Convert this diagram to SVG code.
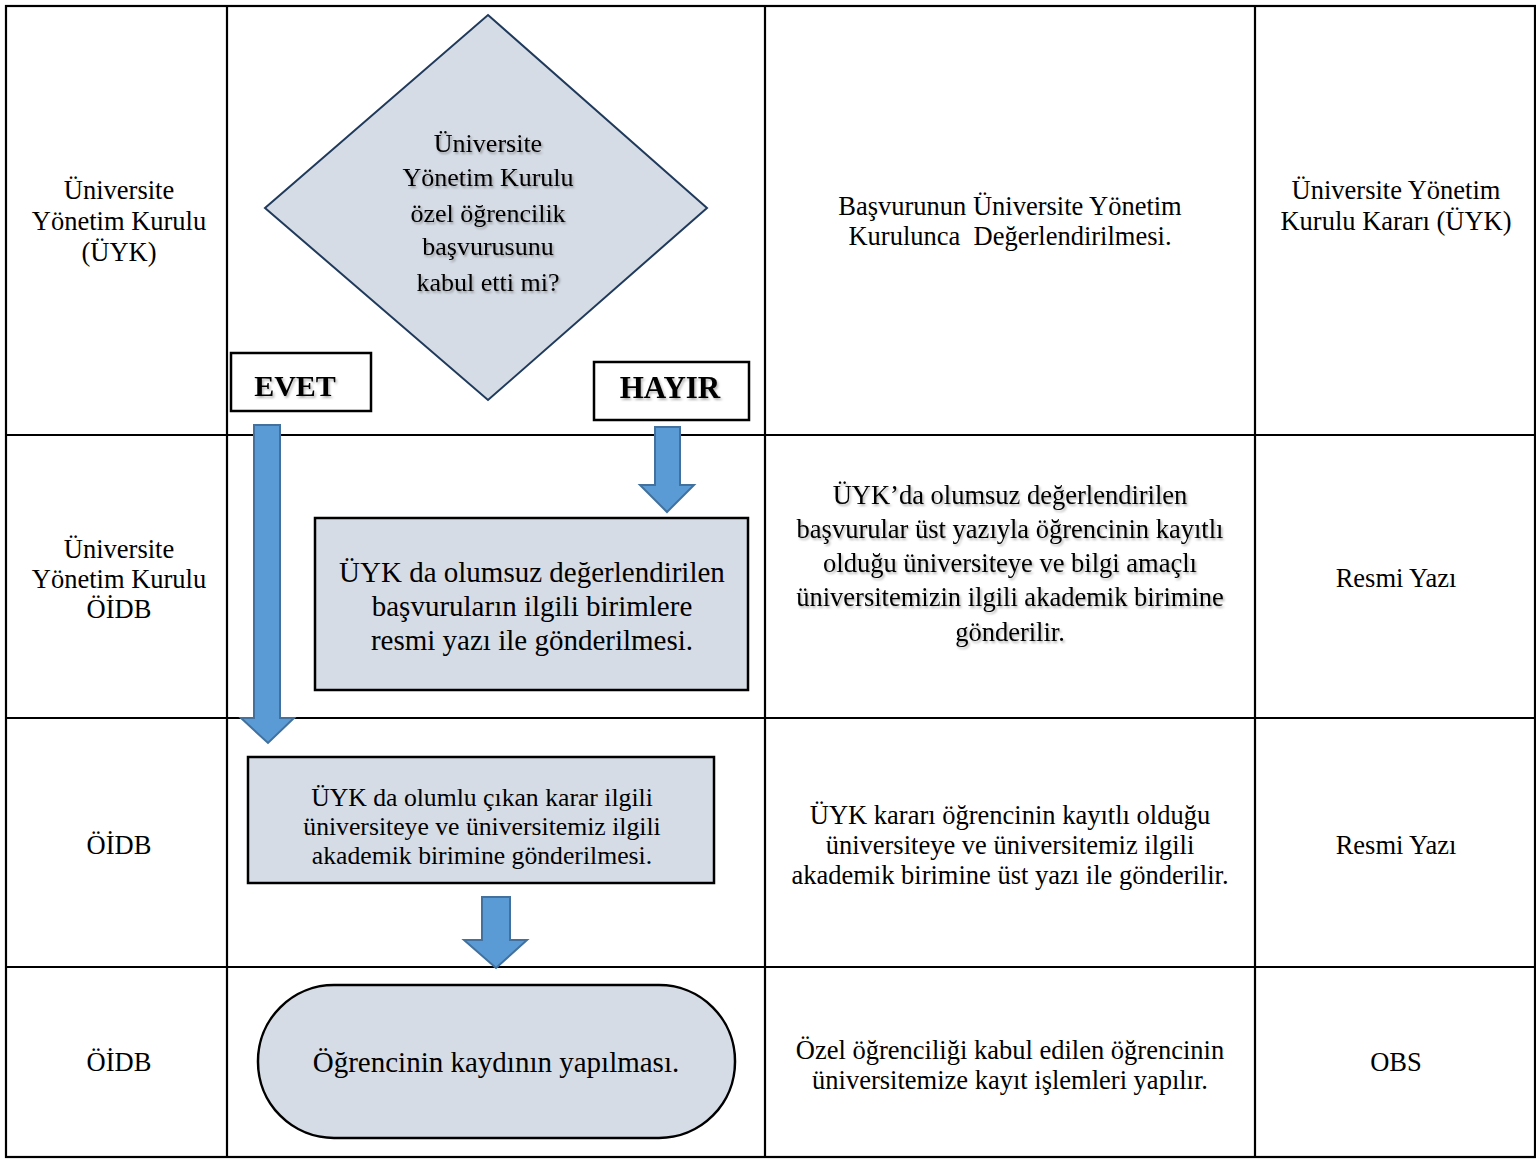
<svg xmlns="http://www.w3.org/2000/svg" width="1536" height="1160" viewBox="0 0 1536 1160">
<defs>
<style>
.t{font-family:"Liberation Serif","Times New Roman",serif;fill:#000;text-anchor:middle}
.c1{font-size:26.5px}
.c3{font-size:26.5px}
.c4{font-size:26.5px}
.grid{stroke:#000;stroke-width:2.2;fill:none}
.box{fill:#d6dce5;stroke:#000;stroke-width:2.5}
.arrow{fill:#5b9bd5;stroke:#41719c;stroke-width:2}
.sh{filter:url(#shadow)}
</style>
<filter id="shadow" x="-10%" y="-10%" width="130%" height="130%">
<feDropShadow dx="1.5" dy="2" stdDeviation="1.2" flood-color="#000" flood-opacity="0.3"/>
</filter>
</defs>
<rect width="1536" height="1160" fill="#fff"/>
<g id="table">
<rect class="grid" x="6" y="6" width="1529" height="1151"/>
<line class="grid" x1="227" y1="6" x2="227" y2="1157"/>
<line class="grid" x1="765" y1="6" x2="765" y2="1157"/>
<line class="grid" x1="1255" y1="6" x2="1255" y2="1157"/>
<line class="grid" x1="6" y1="435" x2="1535" y2="435"/>
<line class="grid" x1="6" y1="718" x2="1535" y2="718"/>
<line class="grid" x1="6" y1="967" x2="1535" y2="967"/>
</g>
<g id="col1">
<text class="t c1"><tspan x="119" y="199">Üniversite</tspan><tspan x="119" y="230">Yönetim Kurulu</tspan><tspan x="119" y="261">(ÜYK)</tspan></text>
<text class="t c1"><tspan x="119" y="558">Üniversite</tspan><tspan x="119" y="588">Yönetim Kurulu</tspan><tspan x="119" y="618">ÖİDB</tspan></text>
<text class="t c1" x="119" y="854">ÖİDB</text>
<text class="t c1" x="119" y="1071">ÖİDB</text>
</g>
<g id="col3">
<text class="t c3"><tspan x="1010" y="215">Başvurunun Üniversite Yönetim</tspan><tspan x="1010" y="245" xml:space="preserve">Kurulunca  Değerlendirilmesi.</tspan></text>
<text class="t c3 sh"><tspan x="1010" y="504">ÜYK’da olumsuz değerlendirilen</tspan><tspan x="1010" y="538">başvurular üst yazıyla öğrencinin kayıtlı</tspan><tspan x="1010" y="572">olduğu üniversiteye ve bilgi amaçlı</tspan><tspan x="1010" y="606">üniversitemizin ilgili akademik birimine</tspan><tspan x="1010" y="641">gönderilir.</tspan></text>
<text class="t c3"><tspan x="1010" y="824">ÜYK kararı öğrencinin kayıtlı olduğu</tspan><tspan x="1010" y="854">üniversiteye ve üniversitemiz ilgili</tspan><tspan x="1010" y="884">akademik birimine üst yazı ile gönderilir.</tspan></text>
<text class="t c3"><tspan x="1010" y="1059">Özel öğrenciliği kabul edilen öğrencinin</tspan><tspan x="1010" y="1089">üniversitemize kayıt işlemleri yapılır.</tspan></text>
</g>
<g id="col4">
<text class="t c4"><tspan x="1396" y="199">Üniversite Yönetim</tspan><tspan x="1396" y="230">Kurulu Kararı (ÜYK)</tspan></text>
<text class="t c4" x="1396" y="587">Resmi Yazı</text>
<text class="t c4" x="1396" y="854">Resmi Yazı</text>
<text class="t c4" x="1396" y="1071">OBS</text>
</g>
<g id="decision">
<polygon points="488,15 707,208 488,400 265,208" fill="#d6dce5" stroke="#203a5c" stroke-width="2"/>
<text class="t sh" style="font-size:26px"><tspan x="488" y="152">Üniversite</tspan><tspan x="488" y="186">Yönetim Kurulu</tspan><tspan x="488" y="222">özel öğrencilik</tspan><tspan x="488" y="255">başvurusunu</tspan><tspan x="488" y="291">kabul etti mi?</tspan></text>
</g>
<g id="evet">
<rect x="231" y="353" width="140" height="58" fill="#fff" stroke="#000" stroke-width="2.5"/>
<text class="t sh" x="295" y="396" style="font-size:30px;font-weight:bold">EVET</text>
</g>
<g id="hayir">
<rect x="594" y="362" width="155" height="58" fill="#fff" stroke="#000" stroke-width="2.5"/>
<text class="t sh" x="670" y="398" style="font-size:31px;font-weight:bold">HAYIR</text>
</g>
<g id="reject">
<rect class="box" x="315" y="518" width="433" height="172"/>
<text class="t" style="font-size:29px"><tspan x="532" y="582">ÜYK da olumsuz değerlendirilen</tspan><tspan x="532" y="616">başvuruların ilgili birimlere</tspan><tspan x="532" y="650">resmi yazı ile gönderilmesi.</tspan></text>
</g>
<g id="approve">
<rect class="box" x="248" y="757" width="466" height="126"/>
<text class="t" style="font-size:25.7px"><tspan x="482" y="806">ÜYK da olumlu çıkan karar ilgili</tspan><tspan x="482" y="835">üniversiteye ve üniversitemiz ilgili</tspan><tspan x="482" y="864">akademik birimine gönderilmesi.</tspan></text>
</g>
<g id="register">
<rect class="box" x="258" y="985" width="477" height="153" rx="76" ry="76"/>
<text class="t" x="496" y="1072" style="font-size:29px">Öğrencinin kaydının yapılması.</text>
</g>
<g id="connectors">
<polygon class="arrow" points="254,425 280,425 280,718 294,718 268,743 241,718 254,718"/>
<polygon class="arrow" points="655,427 680,427 680,485 694,485 667,512 640,485 655,485"/>
<polygon class="arrow" points="482,897 510,897 510,940 527,940 496,968 464,940 482,940"/>
</g>
</svg>
